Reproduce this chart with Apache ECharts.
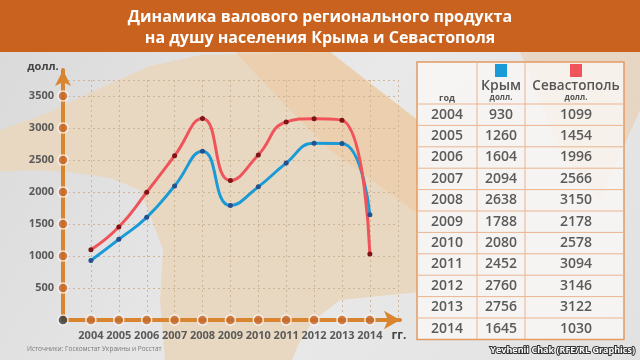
<!DOCTYPE html>
<html><head><meta charset="utf-8">
<script src="https://cdn.jsdelivr.net/npm/echarts@6/dist/echarts.min.js"></script>
<style>html,body{margin:0;padding:0;background:#e8e8e8}#c{width:640px;height:360px}</style>
</head><body><div id="c"></div>
<script>
const years = [2004,2005,2006,2007,2008,2009,2010,2011,2012,2013,2014];
const crimea = [930,1260,1604,2094,2638,1788,2080,2452,2760,2756,1645];
const sevastopol = [1099,1454,1996,2566,3150,2178,2578,3094,3146,3122,1030];
const yTicks = [500,1000,1500,2000,2500,3000,3500];
const titleLines = ['Динамика валового регионального продукта','на душу населения Крыма и Севастополя'];
const seriesNames = ['Крым','Севастополь'];
const unit = 'долл.';

const F = '"Open Sans", "Noto Sans", sans-serif';
const chart = echarts.init(document.getElementById('c'), null, {renderer:'canvas', width:640, height:360});

// table graphics
const tX = 417, tY = 62, tW = 207, tHead = 42, rowH = 21.4;
const c1 = 447, c2 = 501, c3 = 576;
const tbl = [];
tbl.push({type:'rect', shape:{x:tX,y:tY,width:tW,height:tHead+rowH*years.length}, style:{fill:'rgba(250,248,246,0.8)', stroke:'#e29a63', lineWidth:1.5}});
tbl.push({type:'line', shape:{x1:477,y1:tY,x2:477,y2:tY+tHead+rowH*years.length}, style:{stroke:'#eab48e', lineWidth:1}});
tbl.push({type:'line', shape:{x1:525,y1:tY,x2:525,y2:tY+tHead+rowH*years.length}, style:{stroke:'#eab48e', lineWidth:1}});
for (let i=0;i<years.length;i++){
  const y0 = tY+tHead+rowH*i;
  tbl.push({type:'line', shape:{x1:tX,y1:y0,x2:tX+tW,y2:y0}, style:{stroke:'#eab48e', lineWidth:1}});
  const cy = y0+rowH/2;
  tbl.push({type:'text', style:{text:String(years[i]), x:c1, y:cy, align:'center', verticalAlign:'middle', font:'600 14px '+F, fill:'#5a5a5a'}});
  tbl.push({type:'text', style:{text:String(crimea[i]), x:c2, y:cy, align:'center', verticalAlign:'middle', font:'600 14px '+F, fill:'#5a5a5a'}});
  tbl.push({type:'text', style:{text:String(sevastopol[i]), x:c3, y:cy, align:'center', verticalAlign:'middle', font:'600 14px '+F, fill:'#5a5a5a'}});
}
tbl.push({type:'text', style:{text:'год', x:c1, y:98, align:'center', verticalAlign:'middle', font:'bold 9px '+F, fill:'#555'}});
tbl.push({type:'rect', shape:{x:495,y:64,width:12,height:13}, style:{fill:'#1a9ad6'}});
tbl.push({type:'rect', shape:{x:570,y:64,width:12,height:13}, style:{fill:'#f0545a'}});
tbl.push({type:'text', style:{text:seriesNames[0], x:c2, y:86, align:'center', verticalAlign:'middle', font:'600 14px '+F, fill:'#555'}});
tbl.push({type:'text', style:{text:seriesNames[1], x:c3, y:86, align:'center', verticalAlign:'middle', font:'600 13.5px '+F, fill:'#555'}});
tbl.push({type:'text', style:{text:unit, x:c2, y:98, align:'center', verticalAlign:'middle', font:'bold 8px '+F, fill:'#555'}});
tbl.push({type:'text', style:{text:unit, x:c3, y:98, align:'center', verticalAlign:'middle', font:'bold 8px '+F, fill:'#555'}});

const bgGraphics = [
  {type:'rect', z:-10, shape:{x:0,y:0,width:640,height:360}, style:{fill:new echarts.graphic.LinearGradient(0,0,1,1,[{offset:0,color:'#d9d9d9'},{offset:0.5,color:'#e9e9e9'},{offset:1,color:'#e2e2e2'}])}},
  {type:'polygon', z:-9, shape:{points:[[0,130],[50,112],[100,88],[150,66],[200,55],[330,52],[420,122],[420,292],[380,296],[340,300],[312,322],[298,345],[292,360],[165,360],[160,300],[163,250],[150,215],[140,190],[110,178],[70,172],[30,170],[0,172]]}, style:{fill:'#e9d8c1'}},
  {type:'polygon', z:-8, shape:{points:[[235,52],[330,52],[420,122],[420,215],[330,150],[280,100]]}, style:{fill:'rgba(240,195,145,0.4)'}},
  {type:'polygon', z:-8, shape:{points:[[520,52],[640,52],[640,110],[600,200],[560,150]]}, style:{fill:'rgba(240,180,120,0.3)'}},
  {type:'rect', z:-5, shape:{x:0,y:0,width:640,height:52}, style:{fill:'#c9621e'}},
  {type:'text', z:-4, style:{text:titleLines[0], x:320, y:17, align:'center', verticalAlign:'middle', font:'bold 16px '+F, fill:'#fff'}},
  {type:'text', z:-4, style:{text:titleLines[1], x:320, y:38, align:'center', verticalAlign:'middle', font:'bold 16px '+F, fill:'#fff'}},
  {type:'text', style:{text:unit, x:43, y:67, align:'center', verticalAlign:'middle', font:'bold 11px '+F, fill:'#444'}},
  {type:'text', style:{text:'гг.', x:399, y:336, align:'center', verticalAlign:'middle', font:'bold 12px '+F, fill:'#444'}},
  {type:'text', style:{text:'Источники: Госкомстат Украины и Росстат', x:27, y:349, align:'left', verticalAlign:'middle', font:'6.5px '+F, fill:'#7a7a7a'}},
  {type:'text', style:{text:'Yevhenii Chak (RFE/RL Graphics)', x:635, y:350, align:'right', verticalAlign:'middle', font:'bold 9px '+F, fill:'#fff', stroke:'#333', lineWidth:2}},
  {type:'group', z:10, children:tbl}
];

const axisColor = '#d98530';
chart.setOption({
  animation:false,
  graphic: bgGraphics,
  grid:[
    {left:63, right:242, top:80, bottom:40},
    {left:63, right:240, top:70, bottom:40}
  ],
  xAxis:[
    {gridIndex:0, type:'value', min:2003, max:2015, interval:1, axisLine:{show:false}, axisTick:{show:false}, axisLabel:{show:false}, splitLine:{show:true, lineStyle:{color:'#cdb596', type:[2,3], width:1}}},
    {gridIndex:1, type:'value', min:2003, max:2015.08, interval:1, axisLine:{show:true, symbol:['none','arrow'], symbolSize:[14,16], lineStyle:{color:axisColor, width:4}}, axisTick:{show:false}, splitLine:{show:false},
     axisLabel:{margin:10, color:'#5a5a5a', fontFamily:F, fontWeight:'bold', fontSize:11, formatter:v => (Number.isInteger(v) && v>=2004 && v<=2014) ? String(v) : ''}}
  ],
  yAxis:[
    {gridIndex:0, type:'value', min:0, max:3750, interval:500, axisLine:{show:false}, axisTick:{show:false}, axisLabel:{show:false}, splitLine:{show:true, lineStyle:{color:'#cdb596', type:[2,3], width:1}}},
    {gridIndex:1, type:'value', min:0, max:3906, interval:500, axisLine:{show:true, symbol:['none','arrow'], symbolSize:[12,16], lineStyle:{color:axisColor, width:4}}, axisTick:{show:false}, splitLine:{show:false},
     axisLabel:{margin:9, color:'#5a5a5a', fontFamily:F, fontWeight:'bold', fontSize:11, formatter:v => (v>0 && v<=3500 && v%500===0) ? String(v) : ''}}
  ],
  series:[
    {name:seriesNames[0], type:'line', xAxisIndex:1, yAxisIndex:1, smooth:0.5, data:years.map((y,i)=>[y,crimea[i]]), symbol:'circle', symbolSize:5, lineStyle:{color:'#1a9ad6', width:3}, itemStyle:{color:'#24508e'}, z:4},
    {name:seriesNames[1], type:'line', xAxisIndex:1, yAxisIndex:1, smooth:0.5, data:years.map((y,i)=>[y,sevastopol[i]]), symbol:'circle', symbolSize:5, lineStyle:{color:'#f0545a', width:3}, itemStyle:{color:'#7e1418'}, z:4},
    {type:'scatter', xAxisIndex:1, yAxisIndex:1, data:years.map(y=>[y,0]), symbolSize:10, itemStyle:{color:'#c4662a', borderColor:'#fff', borderWidth:1.5}, z:6, clip:false},
    {type:'scatter', xAxisIndex:1, yAxisIndex:1, data:yTicks.map(v=>[2003,v]), symbolSize:10, itemStyle:{color:'#c4662a', borderColor:'#fff', borderWidth:1.5}, z:6, clip:false},
    {type:'scatter', xAxisIndex:1, yAxisIndex:1, data:[[2003,0]], symbolSize:10, itemStyle:{color:'#3b3b3b', borderColor:'#fff', borderWidth:1.5}, z:6, clip:false}
  ]
});
</script></body></html>
